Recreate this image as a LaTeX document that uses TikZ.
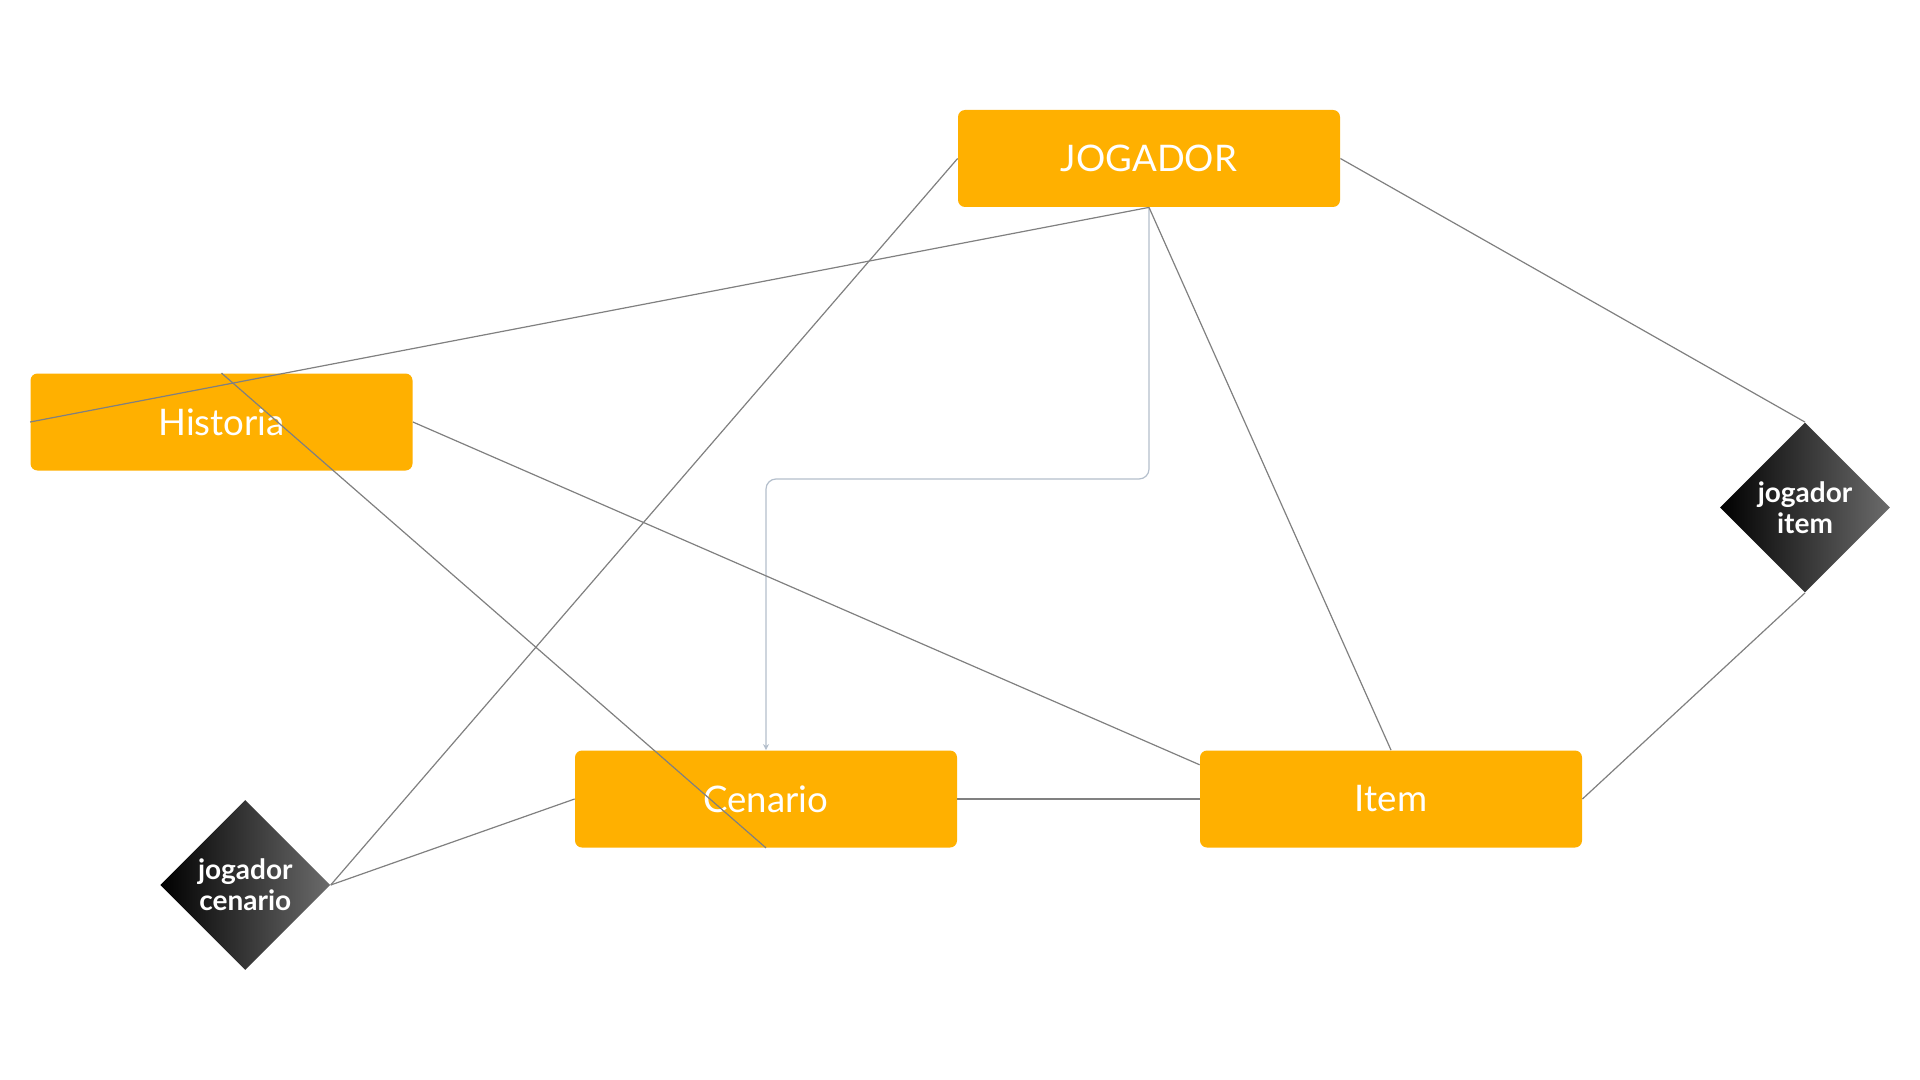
\documentclass[tikz,border=0pt]{standalone}
\usepackage{fontspec}
\setmainfont{Lato}
\usetikzlibrary{shapes.geometric,arrows.meta,calc}
\definecolor{boxorange}{HTML}{FFB000}
\definecolor{linegray}{HTML}{808080}
\definecolor{flowblue}{HTML}{B4BFCC}
\begin{document}
\begin{tikzpicture}[x=0.5pt,y=-0.5pt,
  entity/.style={rectangle, rounded corners=3.5pt, fill=boxorange, draw=none,
    minimum width=191pt, minimum height=48.5pt, inner sep=0pt,
    text=white, font=\fontsize{18.3}{21}\selectfont},
  relation/.style={diamond, aspect=1, minimum width=85pt, minimum height=85pt,
    inner sep=0pt, left color=black, right color=black!58!white, draw=none,
    text=white, align=center, font=\bfseries\fontsize{14}{15.3}\selectfont},
  conn/.style={draw=linegray, line width=0.6pt},
  flow/.style={draw=flowblue, line width=0.6pt, rounded corners=5pt,
    -{Stealth[length=3pt,width=3pt]}}
]
\useasboundingbox (0,0) rectangle (1920,1080);
\fill[white] (0,0) rectangle (1920,1080);

\node[entity] (jog) at (1149,158.5) {JOGADOR};
\node[entity] (hist) at (221.5,422) {Historia};
\node[entity] (cen) at (766,799) {Cenario};
\node[entity] (item) at (1391,799) {Item};
\node[relation] (ji) at (1805,507.5) {jogador\\item};
\node[relation] (jc) at (245.3,885) {jogador\\cenario};

\coordinate (itemin) at ($(item.north west)!0.15!(item.south west)$);

\draw[flow] (jog.south) -- (1149,479) -- (766,479) -- (cen.north);
\draw[conn] (jog.west) -- (jc.east);
\draw[conn] (jog.south) -- (hist.west);
\draw[conn] (jog.south) -- (item.north);
\draw[conn] (jog.east) -- (ji.north);
\draw[conn] (hist.north) -- (cen.south);
\draw[conn] (hist.east) -- (itemin);
\draw[conn] (cen.east) -- (item.west);
\draw[conn] (cen.west) -- (jc.east);
\draw[conn] (item.east) -- (ji.south);
\end{tikzpicture}
\end{document}
